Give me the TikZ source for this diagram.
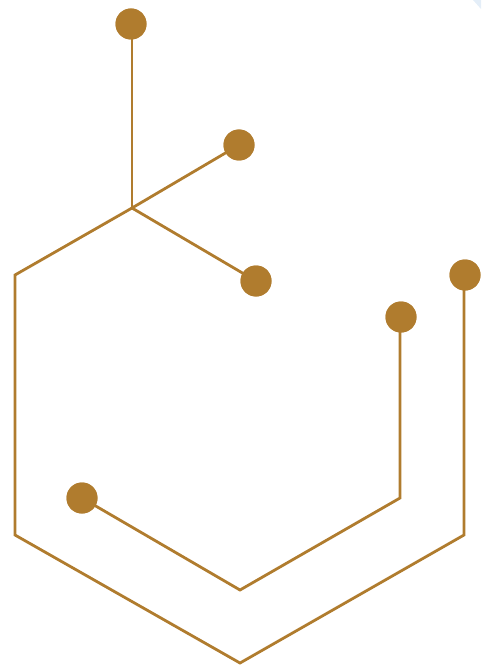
\documentclass[tikz,border=0pt]{standalone}
\definecolor{gold}{HTML}{B07C2E}
\definecolor{paleblue}{HTML}{E4EEF8}
\begin{document}
\begin{tikzpicture}[x=1pt,y=-1pt,
  wire/.style={draw=gold,line width=2.8pt,line join=miter},
  dot/.style={circle,fill=gold,inner sep=0pt,minimum size=31pt}]
\useasboundingbox (0,0) rectangle (481,668);
\fill[paleblue] (473,0) -- (481,0) -- (481,9) -- cycle;
\coordinate (j) at (132,208);
\coordinate (l1) at (15,275);
\coordinate (l2) at (15,535);
\coordinate (b1) at (240,663);
\coordinate (r1) at (464,535);
\coordinate (i1) at (240,590);
\coordinate (i2) at (400,498);
\node[dot] (d1) at (131,24) {};
\node[dot] (d2) at (239,145) {};
\node[dot] (d3) at (256,281) {};
\node[dot] (d4) at (465,275) {};
\node[dot] (d5) at (401,317) {};
\node[dot] (d6) at (82,498) {};
\draw[wire] (j) -- (132,24);
\draw[wire] (j) -- (d2.center);
\draw[wire] (j) -- (d3.center);
\draw[wire] (j) -- (l1) -- (l2) -- (b1) -- (r1) -- (464,275);
\draw[wire] (d6.center) -- (i1) -- (i2) -- (400,317);
\node[dot] at (d1) {};
\node[dot] at (d2) {};
\node[dot] at (d3) {};
\node[dot] at (d4) {};
\node[dot] at (d5) {};
\node[dot] at (d6) {};
\end{tikzpicture}
\end{document}
